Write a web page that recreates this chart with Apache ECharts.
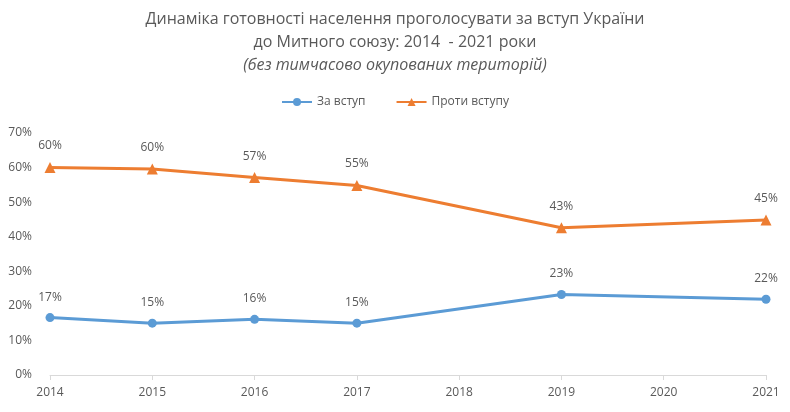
<!DOCTYPE html>
<html><head><meta charset="utf-8">
<script src="https://cdn.jsdelivr.net/npm/echarts@6/dist/echarts.min.js"></script>
<style>html,body{margin:0;padding:0;background:#fff}#c{width:790px;height:412px}</style>
</head><body><div id="c"></div>
<script>
const years = ['2014','2015','2016','2017','2018','2019','2020','2021'];
const forJoin = [16.6, 15.0, 16.1, 15.0, null, 23.3, null, 21.9];
const against = [60.0, 59.6, 57.1, 54.8, null, 42.6, null, 44.8];
const forLabels = ['17%','15%','16%','15%','','23%','','22%'];
const againstLabels = ['60%','60%','57%','55%','','43%','','45%'];
const yTicks = [0,10,20,30,40,50,60,70];

const chart = echarts.init(document.getElementById('c'));
const txt = '#595959';
const font = 'Open Sans';
chart.setOption({
  animation:false,
  title:{
    text:'Динаміка готовності населення проголосувати за вступ України\nдо Митного союзу: 2014  - 2021 роки',
    subtext:'(без тимчасово окупованих територій)',
    left:'center', top:3, itemGap:1,
    textStyle:{fontFamily:font,fontSize:16,fontWeight:'normal',color:txt,lineHeight:23},
    subtextStyle:{fontFamily:font,fontSize:16,fontStyle:'italic',color:txt,lineHeight:20}
  },
  legend:{
    top:91, left:'center', itemWidth:30, itemHeight:10, itemGap:30,
    textStyle:{fontFamily:font,fontSize:12,color:txt},
    data:['За вступ','Проти вступу']
  },
  grid:{left:50,right:24,top:133,bottom:37,containLabel:false},
  xAxis:{
    type:'category', data:years, boundaryGap:false,
    axisLine:{lineStyle:{color:'#d9d9d9'}},
    axisTick:{show:true,lineStyle:{color:'#d9d9d9'}},
    axisLabel:{fontFamily:font,fontSize:12,color:txt,margin:12}
  },
  yAxis:{
    type:'value', min:0, max:70, interval:10,
    axisLine:{show:false}, axisTick:{show:false}, splitLine:{show:false},
    axisLabel:{fontFamily:font,fontSize:12,color:txt,margin:18,formatter:v=>v+'%'}
  },
  series:[
    {name:'За вступ',type:'line',data:forJoin,connectNulls:true,
     symbol:'circle',symbolSize:9,
     lineStyle:{width:3,color:'#5B9BD5'},itemStyle:{color:'#5B9BD5'},
     label:{show:true,position:'top',distance:10,fontFamily:font,fontSize:12,color:txt,
       formatter:p=>forLabels[p.dataIndex]}},
    {name:'Проти вступу',type:'line',data:against,connectNulls:true,
     symbol:'triangle',symbolSize:11,
     lineStyle:{width:3,color:'#ED7D31'},itemStyle:{color:'#ED7D31'},
     label:{show:true,position:'top',distance:10,fontFamily:font,fontSize:12,color:txt,
       formatter:p=>againstLabels[p.dataIndex]}}
  ]
});
</script></body></html>
